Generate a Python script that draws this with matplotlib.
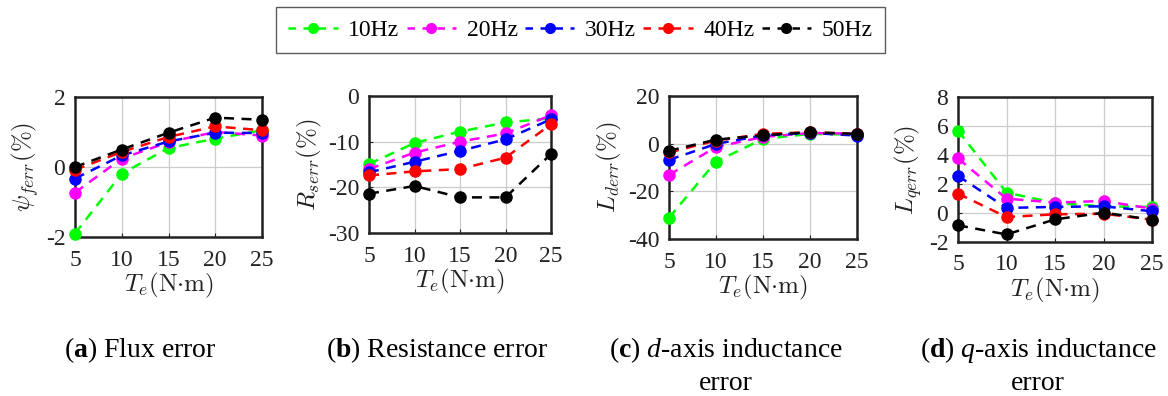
import matplotlib
matplotlib.use('Agg')
import matplotlib.pyplot as plt
from matplotlib.lines import Line2D

plt.rcParams['font.family'] = ['Liberation Serif', 'DejaVu Serif']
plt.rcParams['mathtext.fontset'] = 'cm'
plt.rcParams['mathtext.rm'] = 'Liberation Serif'
plt.rcParams['mathtext.it'] = 'Liberation Serif:italic'
plt.rcParams['mathtext.bf'] = 'Liberation Serif:bold'
plt.rcParams['axes.unicode_minus'] = False

# ── data ─────────────────────────────────────────────────
torque = [5, 10, 15, 20, 25]
freqs = ['10Hz', '20Hz', '30Hz', '40Hz', '50Hz']
colors = ['#00ff00', '#ff00ff', '#0000ff', '#ff0000', '#000000']

flux_err = [
    [-1.90, -0.19, 0.54, 0.81, 1.05],
    [-0.73, 0.24, 0.71, 1.00, 0.90],
    [-0.33, 0.33, 0.73, 0.98, 0.97],
    [-0.08, 0.43, 0.86, 1.16, 1.05],
    [0.00, 0.50, 0.98, 1.41, 1.35],
]
res_err = [
    [-14.9, -10.3, -7.8, -5.8, -4.9],
    [-16.0, -12.4, -10.0, -8.2, -4.2],
    [-16.7, -14.4, -12.0, -9.5, -5.1],
    [-17.4, -16.5, -16.0, -13.5, -6.2],
    [-21.4, -19.7, -22.2, -22.2, -12.7],
]
ld_err = [
    [-31.1, -7.5, 2.0, 4.1, 3.8],
    [-13.1, -1.4, 2.8, 4.5, 4.2],
    [-6.8, -0.1, 3.5, 4.5, 3.4],
    [-3.7, 1.3, 4.1, 4.8, 4.1],
    [-3.0, 1.7, 3.5, 4.8, 4.1],
]
lq_err = [
    [5.68, 1.41, 0.69, 0.46, 0.42],
    [3.76, 0.99, 0.72, 0.83, 0.30],
    [2.56, 0.35, 0.42, 0.46, 0.12],
    [1.34, -0.28, -0.09, -0.05, -0.46],
    [-0.85, -1.48, -0.44, 0.02, -0.46],
]

panels = [
    (flux_err, r'$\psi_{ferr}(\%)$', (-2, 2), [-2, 0, 2]),
    (res_err, r'$R_{serr}(\%)$', (-30, 0), [-30, -20, -10, 0]),
    (ld_err, r'$L_{derr}(\%)$', (-40, 20), [-40, -20, 0, 20]),
    (lq_err, r'$L_{qerr}(\%)$', (-2, 8), [-2, 0, 2, 4, 6, 8]),
]
captions = [
    (r'($\mathbf{a}$) Flux error', None),
    (r'($\mathbf{b}$) Resistance error', None),
    (r'($\mathbf{c}$) $\mathit{d}$-axis inductance', 'error'),
    (r'($\mathbf{d}$) $\mathit{q}$-axis inductance', 'error'),
]

# axes boxes in pixels (left, right, top, bottom)
W, H = 1168, 396
boxes = [(75, 262, 97, 237), (369, 551, 96, 233),
         (669, 857, 96, 239), (958, 1152, 97, 242)]
cap_x = [140, 437, 726, 1038]

fig = plt.figure(figsize=(W / 100, H / 100), dpi=100)

for (data, ylab, ylim, yticks), (l, r, t, b), (cap, cap2), cx in zip(
        panels, boxes, captions, cap_x):
    ax = fig.add_axes([l / W, 1 - b / H, (r - l) / W, (b - t) / H])
    for series, c in zip(data, colors):
        ax.plot(torque, series, '--', color=c, lw=1.8, dashes=(4, 3),
                marker='o', ms=8, mfc=c, mec=c, clip_on=False, zorder=3)
    ax.set_xlim(5, 25)
    ax.set_ylim(*ylim)
    ax.set_xticks(torque)
    ax.set_yticks(yticks)
    ax.grid(True, color='#cccccc', lw=0.9)
    ax.set_axisbelow(True)
    for s in ax.spines.values():
        s.set_linewidth(1.8)
        s.set_color('#222222')
        s.set_zorder(2)
    ax.tick_params(direction='in', length=3, width=0.8, labelsize=17,
                   colors='#222222', pad=7)
    ax.tick_params(axis='x', pad=9)
    ax.set_ylabel(ylab, fontsize=18, labelpad=3, color='#222222')
    ax.set_xlabel(r'$T_e(\mathrm{N{\cdot}m})$', fontsize=18, labelpad=0,
                  color='#222222')

    fig.text(cx / W, 1 - 350 / H, cap, ha='center', va='center',
             fontsize=20, math_fontfamily='custom')
    if cap2:
        fig.text(cx / W, 1 - 383 / H, cap2, ha='center', va='center',
                 fontsize=20)

handles = [Line2D([], [], ls='--', color=c, lw=1.8, dashes=(3, 3),
                  marker='o', ms=7, mfc=c, mec=c) for c in colors]
fig.legend(handles, freqs, loc='center', ncol=5,
           bbox_to_anchor=((272 + 889) / 2 / W, 1 - 30 / H),
           fontsize=17, frameon=True, fancybox=False, edgecolor='#333333',
           handlelength=2.1, columnspacing=0.3, handletextpad=0.45,
           borderpad=0.5, borderaxespad=0)

fig.savefig('out.png', dpi=100)
